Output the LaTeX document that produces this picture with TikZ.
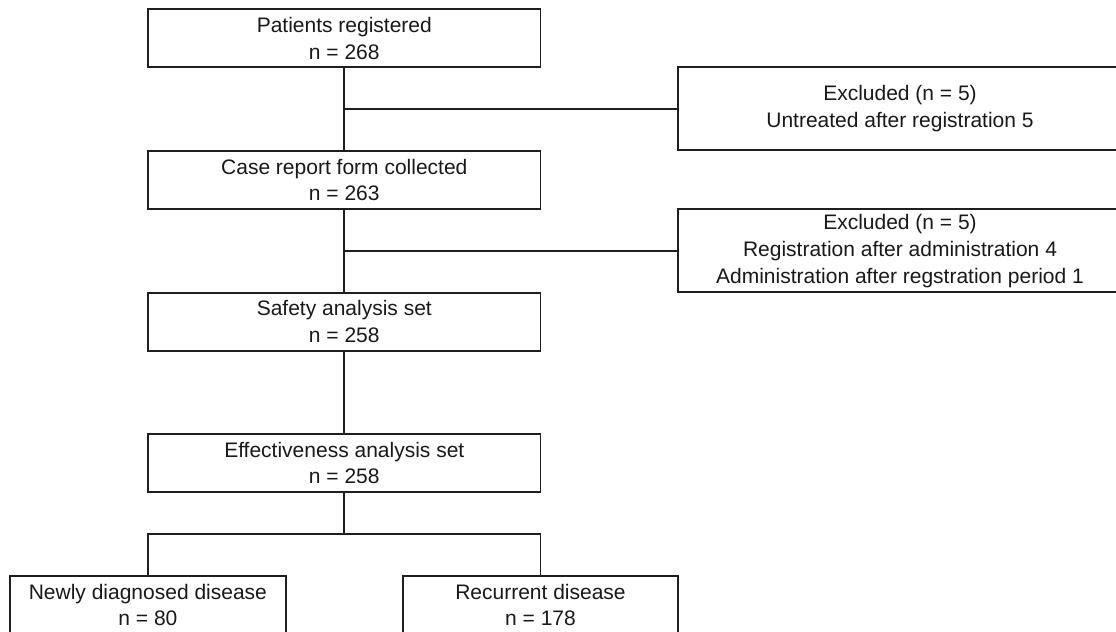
\documentclass[tikz,border=0pt]{standalone}
\usepackage{fontspec}
\setmainfont{Liberation Sans}
\begin{document}
\begin{tikzpicture}[x=0.5pt,y=-0.5pt,
  every node/.style={font=\fontsize{10.5}{13.4}\selectfont, text=black!90},
  box/.style={draw=black!88, line width=0.9pt, rectangle, align=center, inner sep=0pt,
    minimum width=196.25pt, minimum height=29pt},
  exbox/.style={box, minimum width=221.7pt, minimum height=41.5pt},
  leafbox/.style={box, minimum width=137.8pt, minimum height=29pt},
  link/.style={draw=black!88, line width=0.9pt}]
\useasboundingbox (0,0) rectangle (1116,632);
\clip (0,0) rectangle (1116,632);
\fill[white] (0,0) rectangle (1116,632);

\node[box] (b1) at (344.3,38.3) {Patients registered\\n = 268};
\node[box] (b2) at (344.3,180) {Case report form collected\\n = 263};
\node[box] (b3) at (344.3,321.7) {Safety analysis set\\n = 258};
\node[box] (b4) at (344.3,463) {Effectiveness analysis set\\n = 258};

\node[exbox] (e1) at (900,108.7) {Excluded (n = 5)\\Untreated after registration 5};
\node[exbox] (e2) at (900,250.8) {Excluded (n = 5)\\Registration after administration 4\\Administration after regstration period 1};

\node[leafbox] (c1) at (147.9,605) {Newly diagnosed disease\\n = 80};
\node[leafbox] (c2) at (540.5,605) {Recurrent disease\\n = 178};

\coordinate (j1) at (b1.south |- e1.west);
\coordinate (j2) at (b2.south |- e2.west);
\coordinate (s) at (344.3,534.3);

\draw[link] (b1.south) -- (b2.north);
\draw[link] (j1) -- (e1.west);
\draw[link] (b2.south) -- (b3.north);
\draw[link] (j2) -- (e2.west);
\draw[link] (b3.south) -- (b4.north);
\draw[link] (b4.south) -- (s);
\draw[link] (c1.north) |- (s) -| (c2.north);
\end{tikzpicture}
\end{document}
